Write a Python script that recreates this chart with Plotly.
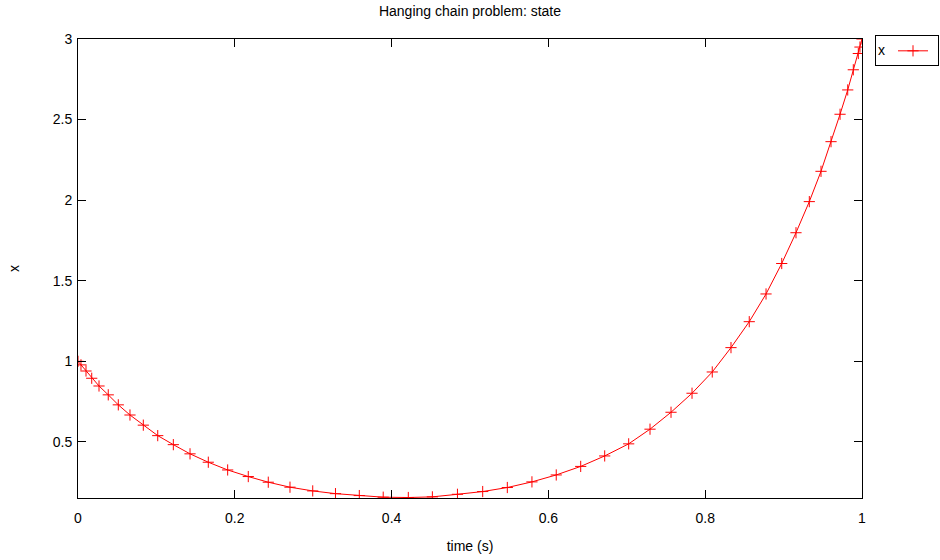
import plotly.graph_objects as go

# time nodes (s)
time_s = [0.0, 0.0038, 0.0102, 0.0175, 0.0268, 0.0386, 0.0514, 0.0663, 0.0833,
          0.1017, 0.1216, 0.1429, 0.1662, 0.1909, 0.2172, 0.2427, 0.2704, 0.2994,
          0.3284, 0.3588, 0.3893, 0.4213, 0.452, 0.484, 0.5162, 0.5476, 0.579,
          0.610, 0.6412, 0.6718, 0.7024, 0.7296, 0.7564, 0.7832, 0.809, 0.8329,
          0.8562, 0.8776, 0.8976, 0.9158, 0.9328, 0.9477, 0.9605, 0.972, 0.9818,
          0.9889, 0.9953, 0.9974, 1.0]

# state x
x_state = [1.0, 0.978, 0.940, 0.895, 0.847, 0.792, 0.730, 0.667, 0.604,
           0.539, 0.483, 0.426, 0.374, 0.326, 0.285, 0.250, 0.219, 0.196,
           0.179, 0.167, 0.157, 0.155, 0.159, 0.175, 0.192, 0.217, 0.252,
           0.295, 0.348, 0.413, 0.488, 0.579, 0.684, 0.802, 0.934, 1.085,
           1.246, 1.418, 1.607, 1.798, 1.991, 2.179, 2.363, 2.533, 2.684,
           2.809, 2.91, 2.95, 3.0]

x_ticks = [0, 0.2, 0.4, 0.6, 0.8, 1]
x_ticklabels = ["0", "0.2", "0.4", "0.6", "0.8", "1"]
y_ticks = [0.5, 1, 1.5, 2, 2.5, 3]
y_ticklabels = ["0.5", "1", "1.5", "2", "2.5", "3"]

FONT = "Liberation Sans, Arial, sans-serif"

fig = go.Figure()
fig.add_trace(go.Scatter(
    x=time_s, y=x_state, mode="lines+markers", name="",
    line=dict(color="#ff0000", width=1),
    marker=dict(symbol="cross-thin", size=8, color="#ff0000",
                line=dict(color="#ff0000", width=1)),
    showlegend=True,
))

axis_common = dict(
    showline=True, linecolor="black", linewidth=1, mirror="ticks",
    ticks="inside", ticklen=8, tickcolor="black", tickwidth=1,
    showgrid=False, zeroline=False,
    tickfont=dict(family=FONT, size=14, color="black"),
)

fig.update_layout(
    width=940, height=560,
    paper_bgcolor="white", plot_bgcolor="white",
    margin=dict(l=78, r=78, t=39, b=62, autoexpand=False),
    title=dict(text="Hanging chain problem: state", x=0.5, xanchor="center",
               y=1 - 11 / 560, yanchor="middle", yref="container",
               font=dict(family=FONT, size=14, color="black")),
    xaxis=dict(range=[0, 1], tickvals=x_ticks, ticktext=x_ticklabels,
               ticklabelstandoff=7,
               title=dict(text="time (s)", standoff=16,
                          font=dict(family=FONT, size=14, color="black")),
               **axis_common),
    yaxis=dict(range=[0.152, 3.0], tickvals=y_ticks, ticktext=y_ticklabels,
               ticklabelstandoff=2,
               title=dict(text="x", standoff=29,
                          font=dict(family=FONT, size=14, color="black")),
               **axis_common),
    legend=dict(x=1.0166, xanchor="left", y=1.008, yanchor="top",
                bordercolor="black", borderwidth=1, bgcolor="white",
                title=dict(text="x", side="left",
                           font=dict(family=FONT, size=14, color="black")),
                font=dict(family=FONT, size=8, color="black"),
                itemwidth=30, tracegroupgap=0, valign="middle"),
    showlegend=True,
)

fig.write_html("out.html", config={"displayModeBar": False},
               post_script="document.body.style.margin='0';document.body.style.overflow='hidden';")
